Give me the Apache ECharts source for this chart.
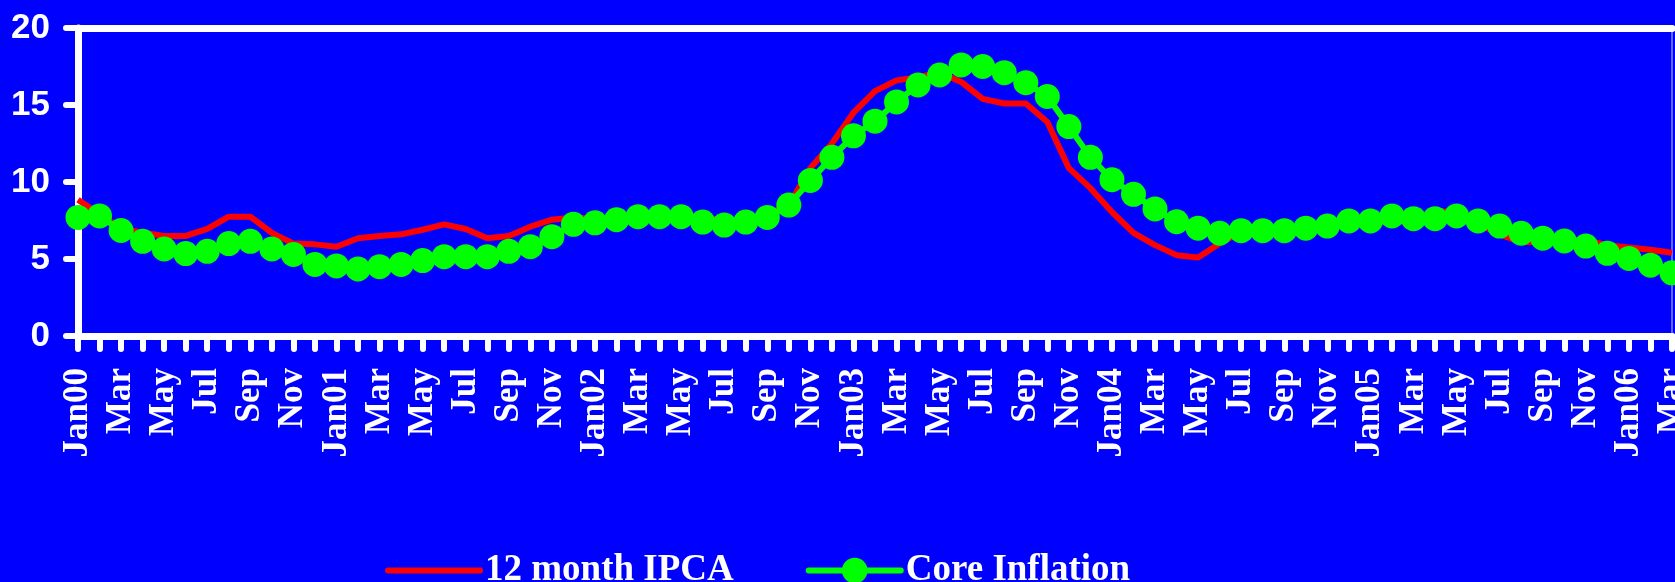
<!DOCTYPE html>
<html>
<head>
<meta charset="utf-8">
<style>
  html, body { margin: 0; padding: 0; background: #0000FF; }
  #chart { width: 1675px; height: 582px; }
</style>
<script src="https://cdn.jsdelivr.net/npm/echarts@6/dist/echarts.min.js"></script>
</head>
<body>
<div id="chart"></div>
<script>
// Monthly categories, Jan 2000 - Mar 2006
const months = [
  'Jan00','Feb','Mar','Apr','May','Jun','Jul','Aug','Sep','Oct','Nov','Dec',
  'Jan01','Feb','Mar','Apr','May','Jun','Jul','Aug','Sep','Oct','Nov','Dec',
  'Jan02','Feb','Mar','Apr','May','Jun','Jul','Aug','Sep','Oct','Nov','Dec',
  'Jan03','Feb','Mar','Apr','May','Jun','Jul','Aug','Sep','Oct','Nov','Dec',
  'Jan04','Feb','Mar','Apr','May','Jun','Jul','Aug','Sep','Oct','Nov','Dec',
  'Jan05','Feb','Mar','Apr','May','Jun','Jul','Aug','Sep','Oct','Nov','Dec',
  'Jan06','Feb','Mar'
];

// 12 month IPCA (%)
const ipca12m = [
  8.85, 7.9, 7.0, 6.7, 6.5, 6.5, 6.95, 7.75, 7.75, 6.7, 6.0, 5.95,
  5.8, 6.35, 6.5, 6.6, 6.9, 7.25, 6.95, 6.35, 6.5, 7.1, 7.55, 7.7,
  7.6, 7.5, 7.75, 8.0, 7.8, 7.7, 7.5, 7.5, 7.9, 8.5, 10.9, 12.5,
  14.5, 15.9, 16.6, 16.8, 17.1, 16.5, 15.4, 15.1, 15.1, 13.9, 10.9, 9.6,
  8.05, 6.7, 5.9, 5.25, 5.1, 6.0, 6.8, 7.1, 6.8, 6.9, 7.2, 7.5,
  7.4, 7.4, 7.5, 8.1, 8.05, 7.3, 6.6, 6.1, 6.1, 6.3, 6.2, 5.9,
  5.75, 5.6, 5.4
];

// Core inflation (%)
const coreInflation = [
  7.7, 7.8, 6.85, 6.15, 5.65, 5.35, 5.5, 6.0, 6.15, 5.65, 5.3, 4.65,
  4.55, 4.35, 4.5, 4.65, 4.9, 5.15, 5.15, 5.15, 5.5, 5.8, 6.45, 7.25,
  7.35, 7.55, 7.75, 7.75, 7.75, 7.4, 7.2, 7.4, 7.7, 8.5, 10.1, 11.6,
  13.0, 13.95, 15.2, 16.3, 16.95, 17.6, 17.5, 17.1, 16.45, 15.55, 13.6, 11.6,
  10.15, 9.2, 8.25, 7.42, 7.0, 6.67, 6.84, 6.84, 6.84, 7.0, 7.14, 7.47,
  7.47, 7.8, 7.62, 7.62, 7.8, 7.47, 7.14, 6.67, 6.35, 6.17, 5.84, 5.37,
  5.04, 4.6, 4.1
];

const yTicks = { min: 0, max: 20, interval: 5 };

const chart = echarts.init(document.getElementById('chart'));
const white = '#FFFFFF';

chart.setOption({
  backgroundColor: '#0000FF',
  animation: false,
  grid: {
    left: 78, right: 3, top: 28, bottom: 246,
    outerBoundsMode: 'none',
    containLabel: false,
    show: true, borderColor: '#C8C8FF', borderWidth: 1, backgroundColor: 'transparent'
  },
  legend: {
    left: 380, top: 547,
    itemWidth: 92, itemHeight: 32, itemGap: 72,
    lineStyle: { width: 6, cap: 'round' },
    textStyle: {
      color: white, fontFamily: 'Liberation Serif', fontWeight: 'bold', fontSize: 37
    },
    data: [
      { name: '12 month IPCA', itemStyle: { opacity: 0 } },
      'Core Inflation'
    ]
  },
  xAxis: [{
    type: 'category',
    data: months,
    boundaryGap: false,
    axisLine: { lineStyle: { color: white, width: 7 } },
    axisTick: { interval: 0, length: 13, lineStyle: { color: white, width: 6, cap: 'round' } },
    axisLabel: {
      interval: 1, rotate: 90, margin: 32,
      color: white, fontFamily: 'Liberation Serif', fontWeight: 'bold', fontSize: 35
    },
    splitLine: { show: false }
  }, {
    type: 'category',
    data: months,
    position: 'top',
    boundaryGap: false,
    axisLine: { lineStyle: { color: white, width: 7 } },
    axisTick: { show: false },
    axisLabel: { show: false }
  }],
  yAxis: {
    type: 'value',
    min: yTicks.min, max: yTicks.max, interval: yTicks.interval,
    axisLine: { show: true, lineStyle: { color: white, width: 7 } },
    axisTick: { show: true, length: 12, lineStyle: { color: white, width: 6, cap: 'round' } },
    axisLabel: {
      margin: 28, color: white, fontFamily: 'Liberation Sans', fontWeight: 'bold', fontSize: 35
    },
    splitLine: { show: false }
  },
  series: [{
    name: '12 month IPCA',
    type: 'line',
    data: ipca12m,
    symbol: 'none',
    itemStyle: { color: '#FF0000' },
    lineStyle: { color: '#FF0000', width: 6 },
    z: 2
  }, {
    name: 'Core Inflation',
    type: 'line',
    data: coreInflation,
    symbol: 'circle',
    symbolSize: 25,
    showAllSymbol: true,
    itemStyle: { color: '#00FF00' },
    lineStyle: { color: '#00FF00', width: 6 },
    z: 3
  }]
});
</script>
</body>
</html>
